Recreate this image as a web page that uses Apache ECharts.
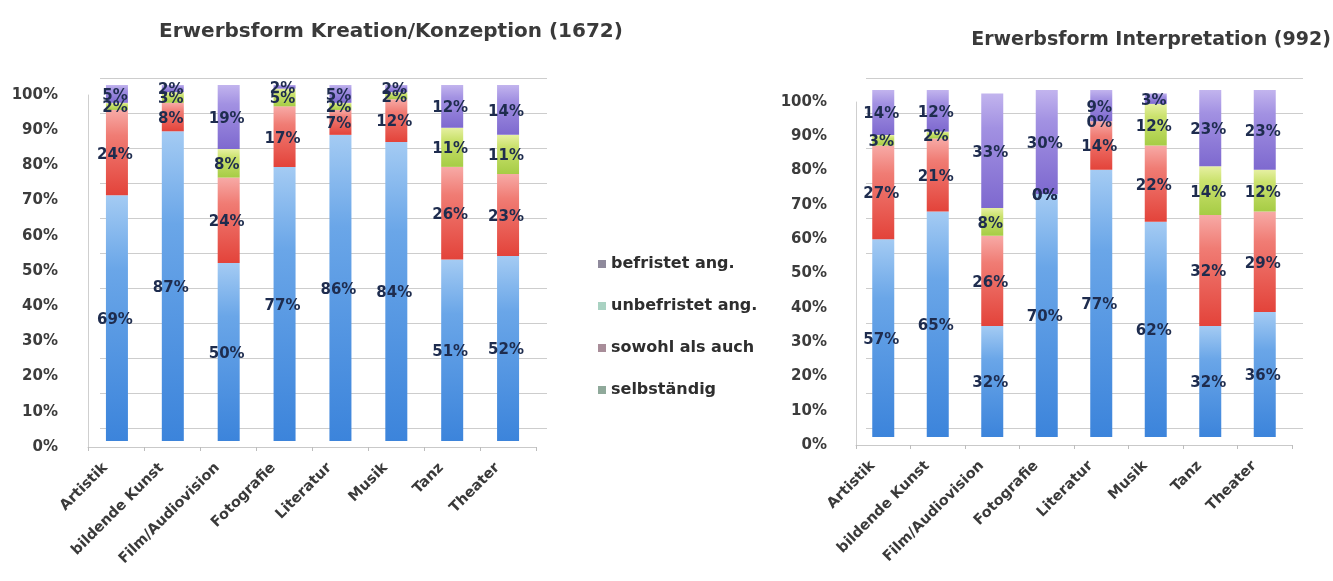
<!DOCTYPE html>
<html>
<head>
<meta charset="utf-8">
<script src="https://cdn.jsdelivr.net/npm/echarts@6/dist/echarts.min.js"></script>
<style>
  html, body { margin: 0; padding: 0; background: #ffffff; }
  #chart { width: 1333px; height: 581px; }
</style>
</head>
<body>
<div id="chart"></div>
<script>
// Categories (Sparten) shown on both charts
const categories = ['Artistik', 'bildende Kunst', 'Film/Audiovision', 'Fotografie', 'Literatur', 'Musik', 'Tanz', 'Theater'];

// Series, stacked bottom to top
const seriesNames = ['selbständig', 'sowohl als auch', 'unbefristet ang.', 'befristet ang.'];

// Erwerbsform Kreation/Konzeption (n = 1672), in percent
const kreationSelbstaendig = [69, 87, 50, 77, 86, 84, 51, 52];
const kreationSowohl       = [24,  8, 24, 17,  7, 12, 26, 23];
const kreationUnbefristet  = [ 2,  3,  8,  5,  2,  2, 11, 11];
const kreationBefristet    = [ 5,  2, 19,  2,  5,  2, 12, 14];

// Erwerbsform Interpretation (n = 992), in percent
const interpSelbstaendig = [57, 65, 32, 70, 77, 62, 32, 36];
const interpSowohl       = [27, 21, 26,  0, 14, 22, 32, 29];
const interpUnbefristet  = [ 3,  2,  8,  0,  0, 12, 14, 12];
const interpBefristet    = [14, 12, 33, 30,  9,  3, 23, 23];

const titleLeft = 'Erwerbsform Kreation/Konzeption (1672)';
const titleRight = 'Erwerbsform Interpretation (992)';

const FONT = 'DejaVu Sans';

// cylinder-like vertical shading for each segment colour
function grad(top, mid, bottom) {
  return new echarts.graphic.LinearGradient(0, 0, 0, 1, [
    { offset: 0, color: top },
    { offset: 0.3, color: mid },
    { offset: 1, color: bottom }
  ]);
}
const segColors = [
  grad('#a4cbf3', '#6aa6e8', '#3c84db'),
  grad('#f7aaa6', '#f07c74', '#e3433a'),
  grad('#e6f0a2', '#cbe26e', '#a6cc45'),
  grad('#c2b4ee', '#a291e2', '#7e69cf')
];
const legendSwatch = ['#8fa99a', '#a88d99', '#a9d2c2', '#8f8a9c'];

// three stacked grids per chart: label axis, back wall gridlines, bars
const grids = [
  // left chart
  { left: 88,  top: 95,  width: 448, height: 352 },
  { left: 100, top: 78,  width: 447, height: 350 },
  { left: 89,  top: 85,  width: 447, height: 356 },
  // right chart
  { left: 856, top: 102, width: 436, height: 343 },
  { left: 866, top: 78,  width: 437, height: 350 },
  { left: 856, top: 90,  width: 436, height: 347 }
];

function labelXAxis(gi) {
  return {
    type: 'category', gridIndex: gi, data: categories,
    axisLine: { show: true, lineStyle: { color: '#c9c9c9' } },
    axisTick: { show: true, length: 4, lineStyle: { color: '#bdbdbd' } },
    axisLabel: {
      rotate: 45, interval: 0, margin: 8, padding: [0, 15, 0, 0],
      fontFamily: FONT, fontSize: 14.5, fontWeight: 'bold', color: '#3a3a3a'
    }
  };
}
function hiddenXAxis(gi) {
  return { type: 'category', gridIndex: gi, data: categories, show: false };
}
function labelYAxis(gi, margin) {
  return {
    type: 'value', gridIndex: gi, min: 0, max: 100, interval: 10,
    splitLine: { show: false },
    axisLine: { show: true, lineStyle: { color: '#cfcfcf' } },
    axisTick: { show: false },
    axisLabel: {
      formatter: '{value}%', margin: margin,
      fontFamily: FONT, fontSize: 15, fontWeight: 'bold', color: '#3c3c3c'
    }
  };
}
function wallYAxis(gi) {
  return {
    type: 'value', gridIndex: gi, min: 0, max: 100, interval: 10,
    axisLabel: { show: false }, axisTick: { show: false },
    axisLine: { show: false },
    splitLine: { show: true, lineStyle: { color: '#cdcdcd', width: 1 } }
  };
}
function barYAxis(gi) {
  return { type: 'value', gridIndex: gi, min: 0, max: 100, show: false, splitLine: { show: false } };
}

function barSeries(name, values, colorIdx, axisIdx, stack) {
  return {
    name: name, type: 'bar', stack: stack,
    xAxisIndex: axisIdx, yAxisIndex: axisIdx,
    barWidth: 22, data: values, z: 3,
    itemStyle: { color: segColors[colorIdx] },
    label: {
      show: true, position: 'inside', formatter: '{c}%', offset: [-2, 2],
      fontFamily: FONT, fontSize: 15, fontWeight: 'bold', color: '#1e2c4e'
    }
  };
}

const option = {
  backgroundColor: '#ffffff',
  animation: false,
  title: [
    { text: titleLeft, left: 386, top: 17, textAlign: 'center',
      textStyle: { fontFamily: FONT, fontSize: 20, fontWeight: 'bold', color: '#3a3a3a' } },
    { text: titleRight, left: 1146, top: 26, textAlign: 'center',
      textStyle: { fontFamily: FONT, fontSize: 19, fontWeight: 'bold', color: '#3a3a3a' } }
  ],
  legend: {
    orient: 'vertical', left: 593, top: 251,
    icon: 'rect', itemWidth: 8, itemHeight: 8, itemGap: 26,
    textStyle: { fontFamily: FONT, fontSize: 16, fontWeight: 'bold', color: '#2e2e2e' },
    data: [
      { name: 'befristet ang.',   itemStyle: { color: legendSwatch[3] } },
      { name: 'unbefristet ang.', itemStyle: { color: legendSwatch[2] } },
      { name: 'sowohl als auch',  itemStyle: { color: legendSwatch[1] } },
      { name: 'selbständig',      itemStyle: { color: legendSwatch[0] } }
    ]
  },
  grid: grids,
  xAxis: [labelXAxis(0), hiddenXAxis(1), hiddenXAxis(2), labelXAxis(3), hiddenXAxis(4), hiddenXAxis(5)],
  yAxis: [labelYAxis(0, 30), wallYAxis(1), barYAxis(2), labelYAxis(3, 29), wallYAxis(4), barYAxis(5)],
  series: [
    barSeries(seriesNames[0], kreationSelbstaendig, 0, 2, 'k'),
    barSeries(seriesNames[1], kreationSowohl,       1, 2, 'k'),
    barSeries(seriesNames[2], kreationUnbefristet,  2, 2, 'k'),
    barSeries(seriesNames[3], kreationBefristet,    3, 2, 'k'),
    barSeries(seriesNames[0], interpSelbstaendig,   0, 5, 'i'),
    barSeries(seriesNames[1], interpSowohl,         1, 5, 'i'),
    barSeries(seriesNames[2], interpUnbefristet,    2, 5, 'i'),
    barSeries(seriesNames[3], interpBefristet,      3, 5, 'i')
  ]
};

const chart = echarts.init(document.getElementById('chart'), null, { renderer: 'canvas' });
chart.setOption(option);
</script>
</body>
</html>
